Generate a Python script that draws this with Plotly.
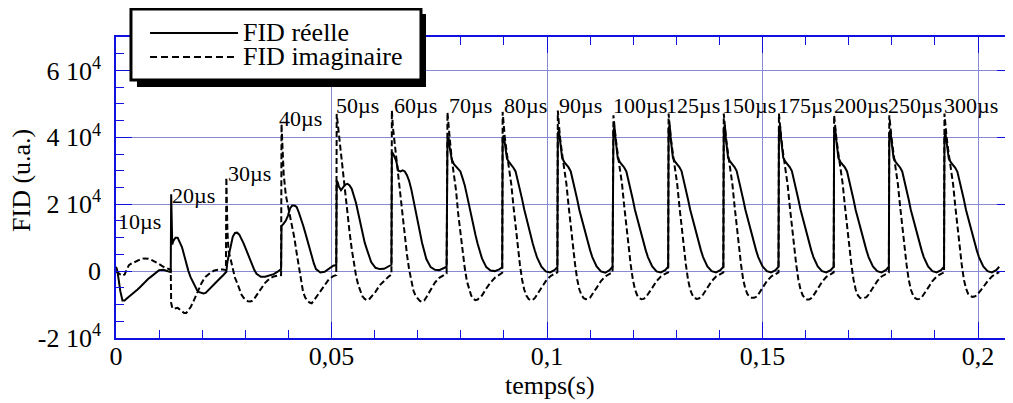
import plotly.graph_objects as go

# ---------------- data ----------------
seg_labels = ["10µs", "20µs", "30µs", "40µs", "50µs", "60µs", "70µs", "80µs",
              "90µs", "100µs", "125µs", "150µs", "175µs", "200µs", "250µs", "300µs"]
# start time of each acquisition segment (s)
seg_start = [0.0, 0.0128, 0.0256, 0.0384, 0.0512, 0.0640, 0.0769, 0.0897,
             0.1025, 0.1154, 0.1282, 0.1410, 0.1538, 0.1666, 0.1794, 0.1922]
# sampling offsets inside a segment (ms)
offset_ms = [0, 0.25, 0.5, 1.0, 1.5, 2.0, 2.5, 3.0, 3.5, 4.0, 4.5, 5.0, 5.5,
             6.0, 6.5, 7.0, 7.5, 8.0, 9.0, 10.0, 11.0, 12.0, 12.7]

# FID réelle, in units of 10^3
real_k = [
    [1.3, 0.5, -1.5, -6.0, -8.8, -8.8, -8.2, -7.7, -7.2, -6.7, -6.2, -5.5, -4.9, -4.2, -3.6, -3.0, -2.3, -1.8, -0.6, 0.3, 0.4, 0.1, -0.3],
    [23.0, 8.0, 9.0, 10.0, 10.0, 8.8, 7.2, 4.8, 2.0, 0.0, -1.8, -3.2, -4.5, -5.7, -6.3, -6.6, -6.7, -6.5, -5.3, -3.9, -2.6, -1.3, -0.4],
    [-0.2, 2.8, 4.5, 8.0, 10.3, 11.4, 11.5, 10.9, 9.8, 8.3, 6.7, 5.0, 3.3, 1.7, 0.3, -0.8, -1.4, -1.7, -1.7, -1.4, -0.9, -0.1, 0.6],
    [13.5, 13.8, 14.2, 15.1, 16.6, 18.8, 19.6, 19.6, 19.2, 17.6, 15.9, 13.7, 11.5, 9.2, 6.7, 4.3, 2.3, 0.6, -0.4, -0.2, 0.8, 1.6, 1.8],
    [27.0, 26.5, 25.3, 24.2, 25.0, 25.9, 26.1, 25.6, 24.6, 22.5, 20.3, 17.3, 14.1, 11.3, 8.5, 6.5, 4.6, 2.7, 1.0, 0.6, 0.7, 1.3, 1.9],
    [35.5, 35.2, 34.5, 33.0, 30.0, 29.8, 30.1, 29.8, 28.7, 27.0, 24.5, 21.2, 17.8, 14.4, 11.3, 8.5, 6.0, 3.6, 1.2, 0.4, 0.3, 0.8, 1.3],
    [39.5, 40.1, 37.0, 33.4, 32.0, 31.2, 30.6, 29.8, 27.8, 25.7, 22.8, 19.6, 16.7, 13.7, 10.8, 8.2, 5.8, 3.8, 1.2, 0.2, 0.0, 0.5, 1.1],
    [39.6, 40.6, 38.0, 33.6, 32.6, 31.8, 30.9, 29.8, 27.3, 24.7, 21.6, 18.5, 15.8, 13.1, 10.6, 8.2, 6.0, 4.0, 1.3, -0.1, -0.4, 0.3, 1.2],
    [41.1, 42.1, 39.0, 33.8, 32.6, 31.9, 31.0, 29.8, 27.2, 24.5, 21.4, 18.3, 15.8, 13.2, 10.8, 8.4, 6.2, 4.2, 1.4, -0.1, -0.5, 0.3, 1.3],
    [42.1, 43.1, 39.5, 33.8, 32.6, 31.9, 31.0, 29.8, 27.2, 24.5, 21.4, 18.3, 15.8, 13.2, 10.8, 8.4, 6.2, 4.2, 1.4, -0.1, -0.4, 0.3, 1.3],
    [42.6, 43.6, 39.5, 33.9, 32.7, 32.0, 31.1, 29.9, 27.3, 24.6, 21.5, 18.4, 15.8, 13.2, 10.8, 8.4, 6.2, 4.2, 1.4, 0.0, -0.4, 0.3, 1.3],
    [42.6, 43.6, 39.5, 33.9, 32.7, 32.0, 31.1, 29.9, 27.3, 24.6, 21.5, 18.4, 15.8, 13.2, 10.8, 8.4, 6.2, 4.2, 1.4, 0.0, -0.4, 0.3, 1.3],
    [42.6, 43.6, 39.5, 33.9, 32.7, 32.0, 31.1, 29.9, 27.3, 24.6, 21.5, 18.4, 15.8, 13.2, 10.8, 8.4, 6.2, 4.2, 1.4, 0.0, -0.4, 0.3, 1.3],
    [41.6, 42.6, 39.2, 33.8, 32.6, 31.9, 31.0, 29.8, 27.2, 24.5, 21.4, 18.3, 15.8, 13.2, 10.8, 8.4, 6.2, 4.2, 1.4, 0.0, -0.4, 0.3, 1.3],
    [41.1, 42.1, 39.0, 33.8, 32.6, 31.9, 31.0, 29.8, 27.2, 24.5, 21.4, 18.3, 15.8, 13.2, 10.8, 8.4, 6.2, 4.2, 1.4, 0.0, -0.4, 0.3, 1.3],
    [40.1, 41.1, 38.5, 33.7, 32.5, 31.8, 30.9, 29.7, 27.2, 24.5, 21.4, 18.3, 15.8, 13.2, 10.8, 8.4, 6.2, 4.2, 1.4, 0.0, -0.4, 0.3, 1.3],
]

# FID imaginaire, in units of 10^3
imag_k = [
    [0.0, -0.3, -0.5, -1.0, -1.4, -1.0, 0.5, 1.8, 2.2, 2.5, 2.9, 3.3, 3.6, 3.7, 3.8, 3.8, 3.7, 3.5, 2.9, 2.1, 1.3, 0.8, 0.4],
    [-9.5, -11.0, -11.3, -11.2, -11.0, -11.5, -12.0, -12.5, -12.5, -11.8, -10.8, -9.5, -8.0, -6.5, -5.0, -3.7, -2.6, -1.7, -0.6, 0.2, 0.4, 0.5, 0.3],
    [28.0, 12.0, 6.0, 3.5, 1.0, -2.0, -3.5, -5.5, -7.0, -8.0, -8.6, -9.0, -9.1, -8.9, -8.2, -7.2, -6.2, -5.2, -3.5, -2.3, -1.6, -1.3, -1.2],
    [44.0, 33.0, 29.0, 22.7, 19.5, 16.3, 13.0, 9.8, 5.5, 1.8, -2.8, -6.2, -7.9, -8.9, -9.4, -9.6, -8.8, -7.9, -5.8, -4.0, -2.4, -1.5, -1.2],
    [47.0, 44.0, 41.5, 33.5, 28.5, 22.5, 16.5, 11.5, 6.5, 2.0, -1.5, -4.2, -6.2, -7.6, -8.3, -8.7, -8.5, -7.8, -6.2, -4.2, -2.8, -1.7, -1.0],
    [48.0, 43.0, 40.0, 34.5, 29.5, 23.0, 16.5, 10.8, 5.0, 0.5, -3.3, -5.8, -7.4, -8.3, -8.9, -9.2, -8.8, -7.8, -5.8, -3.4, -2.0, -1.2, -0.7],
    [47.5, 43.0, 40.0, 33.5, 28.5, 24.0, 17.0, 11.5, 6.0, 1.0, -3.0, -5.5, -7.3, -8.3, -8.7, -8.5, -8.0, -7.3, -5.2, -3.4, -2.0, -1.0, -0.5],
    [47.6, 43.0, 40.0, 35.0, 31.0, 26.0, 19.5, 13.0, 7.5, 2.0, -2.5, -5.5, -7.3, -8.3, -8.7, -8.6, -8.0, -7.1, -5.0, -3.0, -1.6, -0.8, -0.4],
    [48.0, 43.0, 40.0, 35.0, 31.0, 26.0, 19.5, 13.0, 7.5, 2.0, -2.5, -5.5, -7.2, -8.1, -8.4, -8.3, -7.9, -7.0, -5.0, -3.0, -1.6, -0.8, -0.4],
    [46.6, 43.0, 40.0, 35.0, 31.0, 26.0, 19.5, 13.0, 7.5, 2.0, -2.5, -5.5, -7.2, -8.1, -8.4, -8.3, -7.9, -7.0, -5.0, -3.0, -1.6, -0.8, -0.4],
    [47.1, 43.0, 40.0, 35.0, 31.0, 26.0, 19.5, 13.0, 7.5, 2.0, -2.5, -5.5, -7.1, -8.0, -8.3, -8.2, -7.8, -7.0, -5.0, -3.0, -1.6, -0.8, -0.4],
    [47.1, 43.0, 40.0, 35.0, 31.0, 26.0, 19.5, 13.0, 7.5, 2.0, -2.5, -5.3, -6.9, -7.7, -8.0, -8.0, -7.7, -7.0, -5.0, -3.0, -1.6, -0.8, -0.4],
    [47.1, 43.0, 40.0, 35.0, 31.0, 26.0, 19.5, 13.0, 7.5, 2.0, -2.5, -5.5, -7.2, -8.1, -8.5, -8.5, -8.1, -7.3, -5.3, -3.2, -1.7, -0.8, -0.4],
    [46.6, 43.0, 40.0, 35.0, 31.0, 26.0, 19.5, 13.0, 7.5, 2.0, -2.5, -5.5, -7.2, -8.0, -8.2, -8.1, -7.8, -7.0, -5.0, -3.0, -1.6, -0.8, -0.4],
    [46.6, 43.0, 40.0, 35.0, 31.0, 26.0, 19.5, 13.0, 7.5, 2.0, -2.5, -5.5, -7.2, -8.1, -8.4, -8.3, -7.9, -7.0, -5.0, -3.0, -1.6, -0.8, -0.4],
    [47.1, 43.0, 40.0, 35.0, 31.0, 26.0, 19.5, 13.0, 7.5, 2.0, -2.5, -5.2, -6.8, -7.5, -7.7, -7.6, -7.2, -6.5, -4.8, -3.0, -1.6, -0.8, -0.3],
]

# label anchor positions (left edge in s, centre in units of 10^3)
label_x = [0.00007, 0.01246, 0.02545, 0.03742, 0.05058, 0.06411, 0.07687, 0.08956,
           0.10239, 0.11478, 0.12715, 0.14007, 0.15320, 0.16620, 0.17872, 0.19165]
label_y_k = [14.9, 22.5, 29.1, 45.5, 49.6, 49.6, 49.6, 49.6,
             49.6, 49.6, 49.6, 49.6, 49.6, 49.6, 49.6, 49.6]

x_tick_vals = [0, 0.05, 0.1, 0.15, 0.2]
x_tick_text = ["0", "0,05", "0,1", "0,15", "0,2"]
y_tick_vals = [-20000, 0, 20000, 40000, 60000]
y_tick_text = ["-2 10<sup>4</sup>", "0", "2 10<sup>4</sup>", "4 10<sup>4</sup>", "6 10<sup>4</sup>"]

# ---------------- build series ----------------
t_all, re_all, im_all = [], [], []
for s0, rv, iv in zip(seg_start, real_k, imag_k):
    for dt, r, i in zip(offset_ms, rv, iv):
        t_all.append(s0 + dt / 1000.0)
        re_all.append(r * 1000.0)
        im_all.append(i * 1000.0)

SERIF = "Liberation Serif"
AX_BLUE = "#1010e0"
GRID = "#8a8ad2"

fig = go.Figure()
fig.add_trace(go.Scatter(x=t_all, y=im_all, mode="lines", name="FID imaginaire",
                         line=dict(color="black", width=2, dash="6px,3px")))
fig.add_trace(go.Scatter(x=t_all, y=re_all, mode="lines", name="FID réelle",
                         line=dict(color="black", width=2)))

annotations = []
for lab, lx, ly in zip(seg_labels, label_x, label_y_k):
    annotations.append(dict(x=lx, y=ly * 1000.0, xref="x", yref="y", text=lab,
                            showarrow=False, xanchor="left", yanchor="middle",
                            font=dict(family=SERIF, size=22, color="black")))

# axis titles
annotations.append(dict(x=0.4838, y=-0.159, xref="paper", yref="paper", text="temps(s)",
                        showarrow=False, xanchor="center", yanchor="middle",
                        font=dict(family=SERIF, size=26, color="black")))
annotations.append(dict(x=-0.1048, y=0.525, xref="paper", yref="paper", text="FID (u.a.)",
                        showarrow=False, xanchor="center", yanchor="middle", textangle=-90,
                        font=dict(family=SERIF, size=26, color="black")))

# legend (drawn as a boxed key with drop shadow)
annotations.append(dict(x=0.1394, y=1.0133, xref="paper", yref="paper", text="FID réelle",
                        showarrow=False, xanchor="left", yanchor="middle",
                        font=dict(family=SERIF, size=26, color="black")))
annotations.append(dict(x=0.1394, y=0.9336, xref="paper", yref="paper", text="FID imaginaire",
                        showarrow=False, xanchor="left", yanchor="middle",
                        font=dict(family=SERIF, size=26, color="black")))

shapes = [
    dict(type="rect", xref="paper", yref="paper", x0=0.0234, x1=0.3456, y0=0.834, y1=1.0764,
         fillcolor="black", line=dict(width=0), layer="above"),
    dict(type="rect", xref="paper", yref="paper", x0=0.0167, x1=0.340, y0=0.857, y1=1.093,
         fillcolor="white", line=dict(color="black", width=3), layer="above"),
    dict(type="line", xref="paper", yref="paper", x0=0.0379, x1=0.136, y0=1.0133, y1=1.0133,
         line=dict(color="black", width=2), layer="above"),
    dict(type="line", xref="paper", yref="paper", x0=0.0379, x1=0.136, y0=0.9336, y1=0.9336,
         line=dict(color="black", width=2, dash="7px,4px"), layer="above"),
]

# the page body adds an 8 px offset, so the figure is 8 px smaller and shifted
fig.update_layout(
    template="none",
    width=1005, height=395,
    margin=dict(l=108, r=0, t=29, b=65, autoexpand=False),
    paper_bgcolor="white", plot_bgcolor="white",
    showlegend=False,
    annotations=annotations, shapes=shapes,
    font=dict(family=SERIF, color="black"),
)
fig.update_xaxes(
    automargin=False,
    range=[0, 0.2081], tickmode="array", tickvals=x_tick_vals, ticktext=x_tick_text,
    ticks="inside", ticklen=16, tickwidth=1, tickcolor=AX_BLUE,
    showline=True, linecolor=AX_BLUE, linewidth=1.5, mirror="allticks",
    showgrid=True, gridcolor=GRID, gridwidth=1, zeroline=False,
    tickfont=dict(family=SERIF, size=26, color="black"), ticklabelstandoff=-6,
    minor=dict(tickmode="linear", tick0=0, dtick=0.01, ticks="inside", ticklen=8,
               tickcolor=AX_BLUE, tickwidth=1, showgrid=False),
)
fig.update_yaxes(
    automargin=False,
    range=[-20000, 70000], tickmode="array", tickvals=y_tick_vals, ticktext=y_tick_text,
    ticks="inside", ticklen=16, tickwidth=1, tickcolor=AX_BLUE,
    showline=True, linecolor=AX_BLUE, linewidth=1.5, mirror="allticks",
    showgrid=True, gridcolor=GRID, gridwidth=1, zeroline=False,
    tickfont=dict(family=SERIF, size=26, color="black"), ticklabelstandoff=8,
    minor=dict(tickmode="linear", tick0=0, dtick=5000, ticks="inside", ticklen=8,
               tickcolor=AX_BLUE, tickwidth=1, showgrid=False),
)

fig.write_html("out.html")
